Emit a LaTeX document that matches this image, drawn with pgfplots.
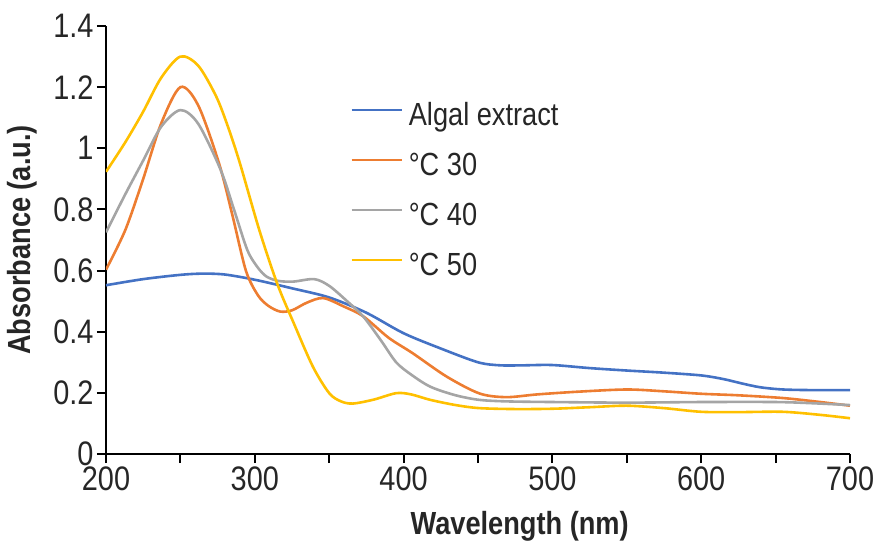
\documentclass[border=0pt]{standalone}
\usepackage{fontspec}
\setmainfont{Liberation Sans}[FakeStretch=0.85]
\usepackage{pgfplots}
\pgfplotsset{compat=1.18}
\definecolor{cblue}{HTML}{4472C4}
\definecolor{corange}{HTML}{ED7D31}
\definecolor{cgray}{HTML}{A5A5A5}
\definecolor{cyellow}{HTML}{FFC000}
\tikzset{curve/.style={line width=2.6pt, smooth, tension=0.5}}
\begin{document}
\begin{tikzpicture}
\useasboundingbox (-106pt,-91pt) rectangle (771pt,454pt);
\begin{axis}[
  at={(0pt,0pt)}, anchor=origin,
  scale only axis, width=744pt, height=428pt,
  xmin=200, xmax=700, ymin=0, ymax=1.4,
  axis x line=bottom, axis y line=left,
  x axis line style={-, line width=2.4pt, black},
  y axis line style={-, line width=2.4pt, black},
  xtick align=outside, ytick align=outside,
  major tick length=9pt,
  every major tick/.append style={black, line width=2pt},
  xtick={200,250,...,700},
  xticklabels={200,,300,,400,,500,,600,,700},
  ytick={0,0.2,...,1.4},
  yticklabel style={/pgf/number format/fixed, /pgf/number format/precision=1},
  /pgf/number format/assume math mode=true,
  tick label style={font=\fontsize{34}{40}\selectfont, text=black!85},
  label style={font=\fontsize{32}{38}\selectfont\bfseries, text=black!85},
  xlabel={Wavelength (nm)},
  ylabel={Absorbance (a.u.)},
  xlabel style={at={(axis description cs:0.556,-0.168)}, anchor=center},
  ylabel style={at={(axis description cs:-0.112,0.5)}, anchor=center},
  legend style={draw=none, fill=none, at={(axis cs:364,1.149)}, anchor=north west,
    inner sep=0pt, font=\fontsize{32}{38}\selectfont, text=black!85,
    nodes={inner sep=0pt, text height=23pt, text depth=7pt, anchor=west},
    row sep=20pt, column sep=6pt},
  legend cell align=left,
  legend image code/.code={\draw[#1, line width=2.6pt] (0pt,8pt) -- (50pt,8pt);},
]
\addplot[cblue, curve] coordinates {
(200,0.552) (225,0.572) (250,0.586) (265,0.590) (280,0.587) (300,0.570)
(325,0.542) (350,0.512) (375,0.462) (400,0.395) (425,0.345) (450,0.300)
(465,0.290) (480,0.290) (500,0.291) (525,0.281) (550,0.273) (575,0.266)
(600,0.257) (615,0.245) (628,0.230) (640,0.218) (655,0.211) (675,0.209) (700,0.209)};
\addlegendentry{Algal extract}
\addplot[corange, curve] coordinates {
(200,0.603) (213,0.733) (225,0.90) (237,1.08) (250,1.20) (262,1.14) (276,0.95)
(285,0.78) (294,0.60) (302,0.52) (309,0.485) (317,0.466) (325,0.47) (335,0.495)
(346,0.510) (360,0.482) (373,0.45) (390,0.38) (406,0.33) (429,0.253) (451,0.198)
(469,0.186) (490,0.195) (518,0.204) (550,0.211) (575,0.205) (600,0.197)
(625,0.192) (655,0.183) (680,0.170) (700,0.158)};
\addlegendentry{°C 30}
\addplot[cgray, curve] coordinates {
(200,0.725) (213,0.85) (225,0.96) (237,1.07) (250,1.125) (262,1.08) (277,0.93)
(286,0.80) (295,0.667) (302,0.61) (308,0.58) (316,0.566) (326,0.564) (340,0.572)
(350,0.550) (362,0.50) (373,0.449) (385,0.37) (395,0.30) (405,0.26) (418,0.22)
(435,0.192) (451,0.177) (470,0.172) (500,0.170) (550,0.168) (600,0.170)
(650,0.170) (675,0.166) (700,0.160)};
\addlegendentry{°C 40}
\addplot[cyellow, curve] coordinates {
(200,0.923) (213,1.02) (225,1.12) (237,1.23) (250,1.30) (262,1.27) (274,1.17)
(282,1.07) (290,0.951) (303,0.733) (315,0.558) (326,0.43) (339,0.286) (350,0.199)
(358,0.172) (366,0.165) (380,0.178) (395,0.199) (405,0.195) (418,0.177)
(435,0.160) (451,0.150) (475,0.147) (500,0.148) (525,0.153) (550,0.158)
(575,0.150) (600,0.138) (625,0.137) (655,0.138) (680,0.128) (700,0.117)};
\addlegendentry{°C 50}
\end{axis}
\end{tikzpicture}
\end{document}
